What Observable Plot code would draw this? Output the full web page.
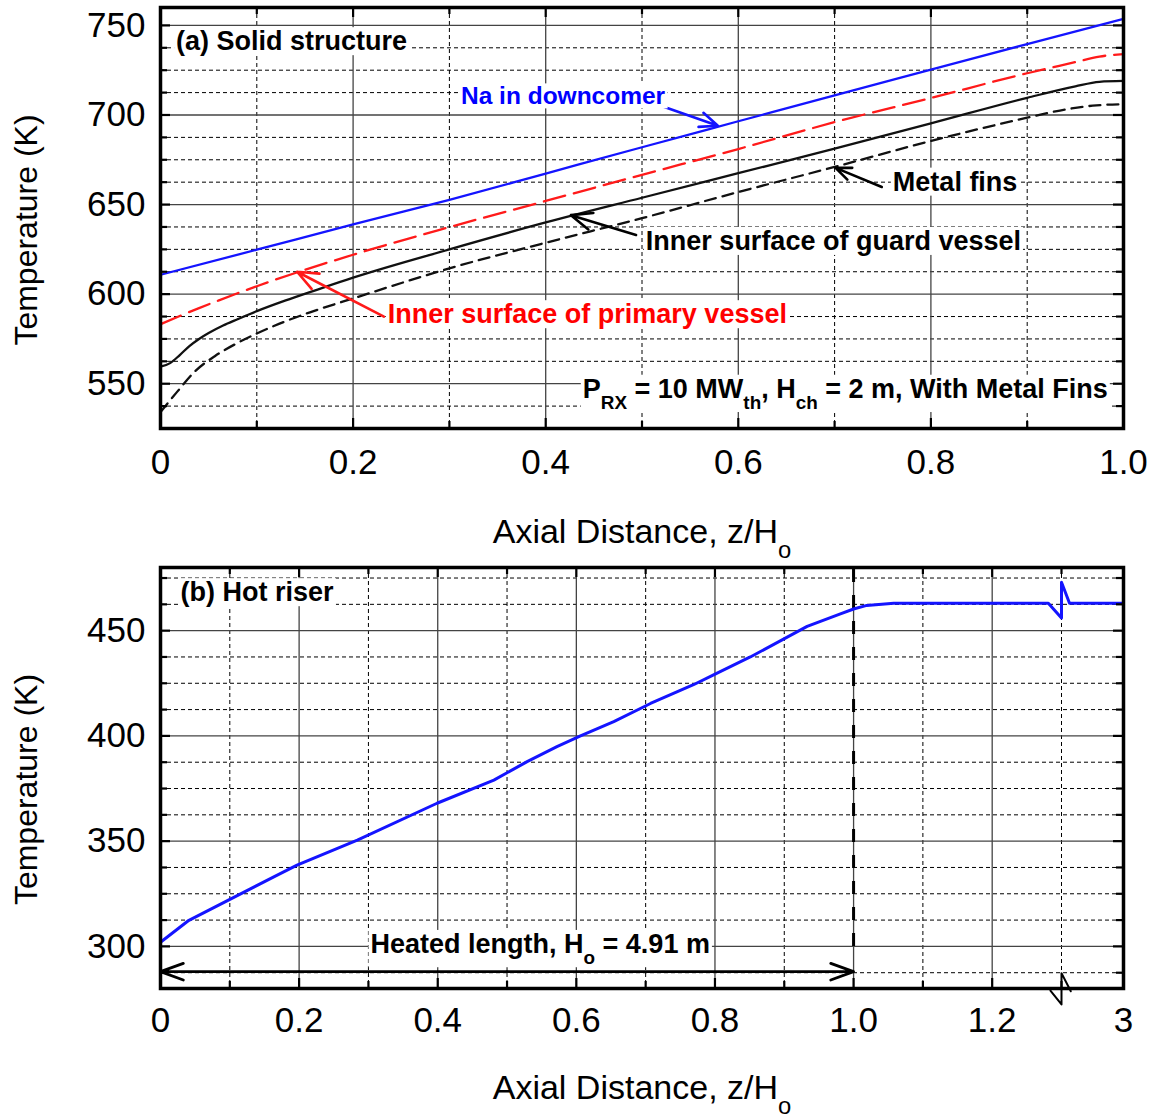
<!DOCTYPE html>
<html>
<head>
<meta charset="utf-8">
<script src="https://cdn.jsdelivr.net/npm/d3@7"></script>
<script src="https://cdn.jsdelivr.net/npm/@observablehq/plot@0.6"></script>
<style>
  html, body { margin: 0; padding: 0; background: #fff; }
  #chart { width: 1158px; }
  #chart svg { display: block; }
</style>
</head>
<body>
<div id="chart"></div>
<script>
// ---------------- Panel (a) data : Solid structure ----------------
const naX = [0, 0.1, 0.2, 0.3, 0.4, 0.5, 0.6, 0.7, 0.8, 0.9, 1.0];
const naT = [610.8, 624.8, 638.9, 652.6, 667.3, 682, 696.5, 711, 725.3, 739.6, 753.6];

const primaryX = [0, 0.02, 0.04, 0.06, 0.08, 0.1, 0.12, 0.14, 0.17, 0.2, 0.3, 0.4, 0.5, 0.6, 0.7, 0.8, 0.9, 0.95, 0.975, 1.0];
const primaryT = [583.2, 587.8, 592.2, 596.4, 600.5, 604.4, 608.2, 611.8, 617, 622, 637.4, 652, 666.6, 681, 696, 709.5, 723.3, 729.5, 732.6, 734];

const guardX = [0, 0.01, 0.02, 0.03, 0.04, 0.05, 0.065, 0.08, 0.1, 0.13, 0.16, 0.2, 0.3, 0.4, 0.5, 0.6, 0.7, 0.8, 0.9, 0.95, 0.975, 1.0];
const guardT = [559.5, 561.5, 566, 571, 575, 578.3, 582.5, 586, 590.5, 596.5, 602, 609.2, 625, 640, 653.8, 667.5, 681.2, 695.3, 709.6, 716, 718.5, 719];

const finsX = [0, 0.017, 0.036, 0.057, 0.078, 0.1, 0.123, 0.156, 0.2, 0.3, 0.4, 0.5, 0.6, 0.7, 0.8, 0.9, 0.934, 0.968, 1.0];
const finsT = [534.2, 545.3, 557, 565.6, 572.2, 578, 583.4, 590, 597.6, 614.4, 628.7, 642.4, 657, 671, 685.5, 698.5, 702.5, 705.2, 706];

const xTicksA = [0, 0.2, 0.4, 0.6, 0.8, 1.0];
const xMajorA = [0.2, 0.4, 0.6, 0.8];
const xMinorA = [0.1, 0.3, 0.5, 0.7, 0.9];
const yTicksA = [550, 600, 650, 700, 750];
const yMinorA = [537.5, 562.5, 575, 587.5, 612.5, 625, 637.5, 662.5, 675, 687.5, 712.5, 725, 737.5];

const labelsA = ["(a) Solid structure", "Na in downcomer", "Metal fins", "Inner surface of guard vessel", "Inner surface of primary vessel", "P_{RX} = 10 MW_{th}, H_{ch} = 2 m, With Metal Fins"];
const labelAX = [0.0162, 0.312, 0.7605, 0.504, 0.236, 0.9837];
const labelAT = [741, 710.3, 662.6, 629.5, 588.6, 547];
const labelAColor = ["#000", "#0000ff", "#000", "#000", "#ff0000", "#000"];
const labelASize = [27, 24.5, 27, 27, 27, 27];
const labelAAnchor = ["start", "start", "start", "start", "start", "end"];

const arrowAX1 = [0.5218, 0.749, 0.4938, 0.232];
const arrowAT1 = [704.7, 659.8, 633, 587.5];
const arrowAX2 = [0.5788, 0.701, 0.4262, 0.1418];
const arrowAT2 = [694, 670.5, 644.1, 612.5];
const arrowAColor = ["#1414ff", "#000", "#000", "#ff1a1a"];

// ---------------- Panel (b) data : Hot riser ----------------
const riserX = [0, 0.041, 0.1635, 0.197, 0.284, 0.399, 0.481, 0.529, 0.572, 0.606, 0.654, 0.707, 0.769, 0.798, 0.851, 0.933, 0.981, 1.0, 1.019, 1.058, 1.281, 1.3, 1.3, 1.52, 3];
const riserT = [302, 312.4, 333, 338.6, 350.5, 368, 379, 387.8, 394.9, 400, 406.8, 415.4, 424.3, 429, 437.5, 452, 458, 460.3, 462, 463, 463, 456, 473, 463, 463];

const breakX = [1.284, 1.3, 1.3, 1.555];
const breakT = [279, 272.4, 287.3, 278.7];

const xTicksB = [0, 0.2, 0.4, 0.6, 0.8, 1.0, 1.2, 3];
const xMajorB = [0.2, 0.4, 0.6, 0.8, 1.0, 1.2];
const xMinorB = [0.1, 0.3, 0.5, 0.7, 0.9, 1.1, 1.3];
const yTicksB = [300, 350, 400, 450];
const yMinorB = [287.5, 312.5, 325, 337.5, 362.5, 375, 387.5, 412.5, 425, 437.5, 462.5, 475];

const heatedStart = 0, heatedEnd = 1.0, heatedArrowT = 288, heatedLineT = [300, 480];
const labelsB = ["(b) Hot riser", "Heated length, H_{o} = 4.91 m"];
const labelBX = [0.0288, 0.303];
const labelBT = [468.1, 301];

const xLabel = "Axial Distance, z/H_{o}";
const yLabel = "Temperature (K)";

// ---------------- helpers ----------------
const W = 1158, ML = 160, MR = 35;
const IW = W - ML - MR, IH = 421;
const FONT = "'Liberation Sans', Arial, Helvetica, sans-serif";
const boxed = new Set([...labelsA, ...labelsB]);

function grid(xMaj, xMin, yMaj, yMin) {
  const minor = {stroke: "#000", strokeWidth: 1, strokeDasharray: "4,3"};
  const major = {stroke: "#444", strokeWidth: 1.3};
  return [
    Plot.ruleX(xMin, minor), Plot.ruleY(yMin, minor),
    Plot.ruleX(xMaj, major), Plot.ruleY(yMaj, major)
  ];
}
function ticks(xMaj, xMin, yMaj, yMin) {
  const s = {stroke: "#000", strokeWidth: 2.2};
  return [
    Plot.ruleX(xMaj, {...s, insetTop: IH - 10}), Plot.ruleX(xMaj, {...s, insetBottom: IH - 10}),
    Plot.ruleX(xMin, {...s, insetTop: IH - 7}), Plot.ruleX(xMin, {...s, insetBottom: IH - 7}),
    Plot.ruleY(yMaj, {...s, insetRight: IW - 10}), Plot.ruleY(yMaj, {...s, insetLeft: IW - 10}),
    Plot.ruleY(yMin, {...s, insetRight: IW - 7}), Plot.ruleY(yMin, {...s, insetLeft: IW - 7})
  ];
}
function axisLabels(dyX, dyY) {
  return [
    Plot.text([xLabel], {frameAnchor: "bottom", dy: dyX, text: d => d, fontSize: 34, fill: "#000", textAnchor: "middle", lineAnchor: "middle"}),
    Plot.text([yLabel], {frameAnchor: "left", dx: -134, dy: dyY, rotate: -90, text: d => d, fontSize: 32, fill: "#000", textAnchor: "middle", lineAnchor: "middle"})
  ];
}
const fmt = d => d === 0 ? "0" : d === 3 ? "3" : d.toFixed(1);

function finish(svg) {
  d3.select(svg).selectAll("text").each(function () {
    const raw = this.textContent;
    if (raw.includes("_{")) {
      const fs = parseFloat(getComputedStyle(this).fontSize);
      const shift = 0.42 * fs;
      const parts = raw.split(/(_\{[^}]*\})/).filter(s => s.length);
      this.textContent = "";
      let sub = false;
      for (const p of parts) {
        const ts = document.createElementNS("http://www.w3.org/2000/svg", "tspan");
        if (p.startsWith("_{")) {
          ts.textContent = p.slice(2, -1);
          ts.setAttribute("font-size", (0.7 * fs).toFixed(1));
          ts.setAttribute("dy", shift.toFixed(1));
          sub = true;
        } else {
          ts.textContent = p;
          if (sub) { ts.setAttribute("dy", (-shift).toFixed(1)); sub = false; }
        }
        this.appendChild(ts);
      }
    }
    if (boxed.has(raw)) {
      const b = this.getBBox();
      const r = document.createElementNS("http://www.w3.org/2000/svg", "rect");
      r.setAttribute("x", b.x - 2); r.setAttribute("y", b.y + 1);
      r.setAttribute("width", b.width + 4); r.setAttribute("height", b.height - 2);
      r.setAttribute("fill", "#fff");
      const tr = this.getAttribute("transform");
      if (tr) r.setAttribute("transform", tr);
      this.parentNode.insertBefore(r, this);
    }
  });
}

const style = {fontFamily: FONT, fontSize: "35px", color: "#000", background: "#fff", overflow: "visible"};

// ---------------- Panel (a) ----------------
const textA = labelsA.map((s, i) => Plot.text([s], {
  x: [labelAX[i]], y: [labelAT[i]], text: [s], fill: labelAColor[i], fontSize: labelASize[i],
  fontWeight: "bold", textAnchor: labelAAnchor[i]
}));
const arrowsA = arrowAX1.map((x1, i) => Plot.arrow([0], {
  x1: [x1], y1: [arrowAT1[i]], x2: [arrowAX2[i]], y2: [arrowAT2[i]],
  stroke: arrowAColor[i], strokeWidth: 2.6, headLength: 13, headAngle: 45
}));

const plotA = Plot.plot({
  width: W, height: 555, marginLeft: ML, marginRight: MR, marginTop: 7, marginBottom: 127,
  style,
  x: {type: "linear", domain: [0, 1], label: null},
  y: {type: "linear", domain: [525, 760], label: null},
  marks: [
    ...grid(xMajorA, xMinorA, yTicksA, yMinorA),
    Plot.line(naX, {x: naX, y: naT, stroke: "#1414ff", strokeWidth: 2.3, curve: "monotone-x"}),
    Plot.line(primaryX, {x: primaryX, y: primaryT, stroke: "#ff1a1a", strokeWidth: 2.3, strokeDasharray: "22,9", curve: "monotone-x"}),
    Plot.line(guardX, {x: guardX, y: guardT, stroke: "#111", strokeWidth: 2.3, curve: "monotone-x"}),
    Plot.line(finsX, {x: finsX, y: finsT, stroke: "#111", strokeWidth: 2.3, strokeDasharray: "11,7", curve: "monotone-x"}),
    ...arrowsA,
    ...textA,
    ...ticks(xMajorA, xMinorA, yTicksA, yMinorA),
    Plot.frame({stroke: "#000", strokeWidth: 3.5}),
    Plot.axisX({ticks: xTicksA, tickSize: 0, tickPadding: 21, tickFormat: fmt, label: null}),
    Plot.axisY({ticks: yTicksA, tickSize: 0, tickPadding: 15, label: null}),
    ...axisLabels(104, 12)
  ]
});

// ---------------- Panel (b) ----------------
const textB = labelsB.map((s, i) => Plot.text([s], {
  x: [labelBX[i]], y: [labelBT[i]], text: [s], fill: "#000", fontSize: 27, fontWeight: "bold", textAnchor: "start"
}));
const heatedMid = (heatedStart + heatedEnd) / 2;

const plotB = Plot.plot({
  width: W, height: 563, marginLeft: ML, marginRight: MR, marginTop: 12, marginBottom: 130,
  style,
  x: {type: "linear", domain: [0, 1.3, 3], range: [ML, W - MR - 62, W - MR], label: null},
  y: {type: "linear", domain: [280, 480], label: null},
  marks: [
    ...grid(xMajorB, xMinorB, yTicksB, yMinorB),
    Plot.ruleX([heatedEnd], {y1: heatedLineT[0], y2: heatedLineT[1], stroke: "#000", strokeWidth: 3, strokeDasharray: "13,13"}),
    Plot.arrow([0], {x1: [heatedMid], x2: [heatedEnd], y1: [heatedArrowT], y2: [heatedArrowT], stroke: "#000", strokeWidth: 2.8, headLength: 13, headAngle: 40}),
    Plot.arrow([0], {x1: [heatedMid], x2: [heatedStart], y1: [heatedArrowT], y2: [heatedArrowT], stroke: "#000", strokeWidth: 2.8, headLength: 13, headAngle: 40}),
    Plot.line(riserX, {x: riserX, y: riserT, stroke: "#1414ff", strokeWidth: 3}),
    ...textB,
    ...ticks(xMajorB, xMinorB, yTicksB, yMinorB),
    Plot.frame({stroke: "#000", strokeWidth: 3.5}),
    Plot.line(breakX, {x: breakX, y: breakT, stroke: "#000", strokeWidth: 2}),
    Plot.axisX({ticks: xTicksB, tickSize: 0, tickPadding: 19, tickFormat: fmt, label: null}),
    Plot.axisY({ticks: yTicksB, tickSize: 0, tickPadding: 15, label: null}),
    ...axisLabels(100, 11.5)
  ]
});

const chart = document.getElementById("chart");
chart.appendChild(plotA);
chart.appendChild(plotB);
finish(plotA);
finish(plotB);
</script>
</body>
</html>
